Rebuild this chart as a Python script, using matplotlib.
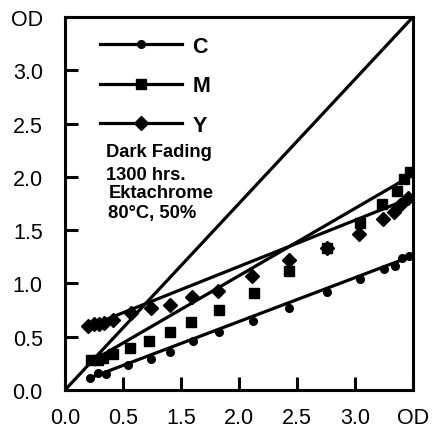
import numpy as np
import matplotlib
matplotlib.use("Agg")
import matplotlib.pyplot as plt
from matplotlib.lines import Line2D

plt.rcParams['font.family'] = ['Liberation Sans', 'DejaVu Sans']

# initial OD vs OD after dark fading
c_x = [0.25, 0.33, 0.41, 0.63, 0.86, 1.06, 1.29, 1.55, 1.89, 2.25, 2.64, 2.97, 3.21, 3.32, 3.39, 3.46]
c_y = [0.11, 0.16, 0.15, 0.23, 0.29, 0.36, 0.46, 0.54, 0.65, 0.77, 0.92, 1.04, 1.14, 1.16, 1.24, 1.26]

m_x = [0.26, 0.33, 0.38, 0.48, 0.65, 0.84, 1.06, 1.27, 1.55, 1.90, 2.25, 2.64, 2.97, 3.19, 3.34, 3.41, 3.47]
m_y = [0.28, 0.28, 0.30, 0.34, 0.39, 0.46, 0.54, 0.64, 0.75, 0.91, 1.12, 1.33, 1.57, 1.75, 1.87, 1.98, 2.05]

y_x = [0.23, 0.29, 0.34, 0.39, 0.48, 0.66, 0.86, 1.06, 1.28, 1.54, 1.88, 2.25, 2.64, 2.96, 3.20, 3.31, 3.37, 3.45]
y_y = [0.60, 0.62, 0.62, 0.63, 0.66, 0.72, 0.77, 0.80, 0.87, 0.93, 1.07, 1.22, 1.33, 1.46, 1.60, 1.67, 1.74, 1.80]

# fitted lines (end points)
c_fit_x = [0.27, 3.5]
c_fit_y = [0.12, 1.26]
m_fit_x = [0.25, 3.5]
m_fit_y = [0.26, 2.02]
y_fit_x = [0.22, 3.5]
y_fit_y = [0.59, 1.81]
ref_x = [0.0, 3.5]
ref_y = [0.0, 3.5]

xtick_labels = ['0.0', '0.5', '1.5', '2.0', '2.5', '3.0', 'OD']
ytick_labels = ['0.0', '0.5', '1.0', '1.5', '2.0', '2.5', '3.0', 'OD']
note_lines = ['Dark Fading', '1300 hrs.', 'Ektachrome', '80\u00b0C, 50%']

fig = plt.figure(figsize=(4.33, 4.35), dpi=100)
ax = fig.add_axes([65 / 433, 44 / 435, 348 / 433, 373 / 435])

lw = 2.3
ax.plot(ref_x, ref_y, color='black', lw=lw)
ax.plot(c_fit_x, c_fit_y, color='black', lw=lw)
ax.plot(m_fit_x, m_fit_y, color='black', lw=lw)
ax.plot(y_fit_x, y_fit_y, color='black', lw=lw)

ax.plot(c_x, c_y, 'o', color='black', ms=5.5)
ax.plot(m_x, m_y, 's', color='black', ms=7)
ax.plot(y_x, y_y, 'D', color='black', ms=7)

ax.set_xlim(0, 3.5)
ax.set_ylim(0, 3.5)
ax.set_xticks(np.linspace(0, 3.5, 7))
ax.set_xticklabels(xtick_labels)
ax.set_yticks(np.arange(0, 3.51, 0.5))
ax.set_yticklabels(ytick_labels)
ax.tick_params(direction='in', length=9.5, width=2.2, labelsize=15.5)
ax.tick_params(axis='x', pad=12)
ax.tick_params(axis='y', pad=16)
for s in ax.spines.values():
    s.set_linewidth(2.2)

handles = [
    Line2D([], [], color='black', lw=lw, marker='o', ms=5.5),
    Line2D([], [], color='black', lw=lw, marker='s', ms=7),
    Line2D([], [], color='black', lw=lw, marker='D', ms=7),
]
ax.legend(handles, ['C', 'M', 'Y'], loc='upper left', bbox_to_anchor=(0.1006, 0.949),
          frameon=False, borderpad=0, borderaxespad=0, handlelength=3.8,
          handletextpad=0.5, labelspacing=0.85, prop={'weight': 'bold', 'size': 15.5})

note_x = [0.1178, 0.1178, 0.1264, 0.1236]
note_y = [0.6273, 0.5657, 0.5161, 0.4651]
for t, tx, ty in zip(note_lines, note_x, note_y):
    ax.text(tx, ty, t, transform=ax.transAxes, fontsize=13.2, fontweight='bold', va='baseline')

fig.savefig('out.png', dpi=100)
